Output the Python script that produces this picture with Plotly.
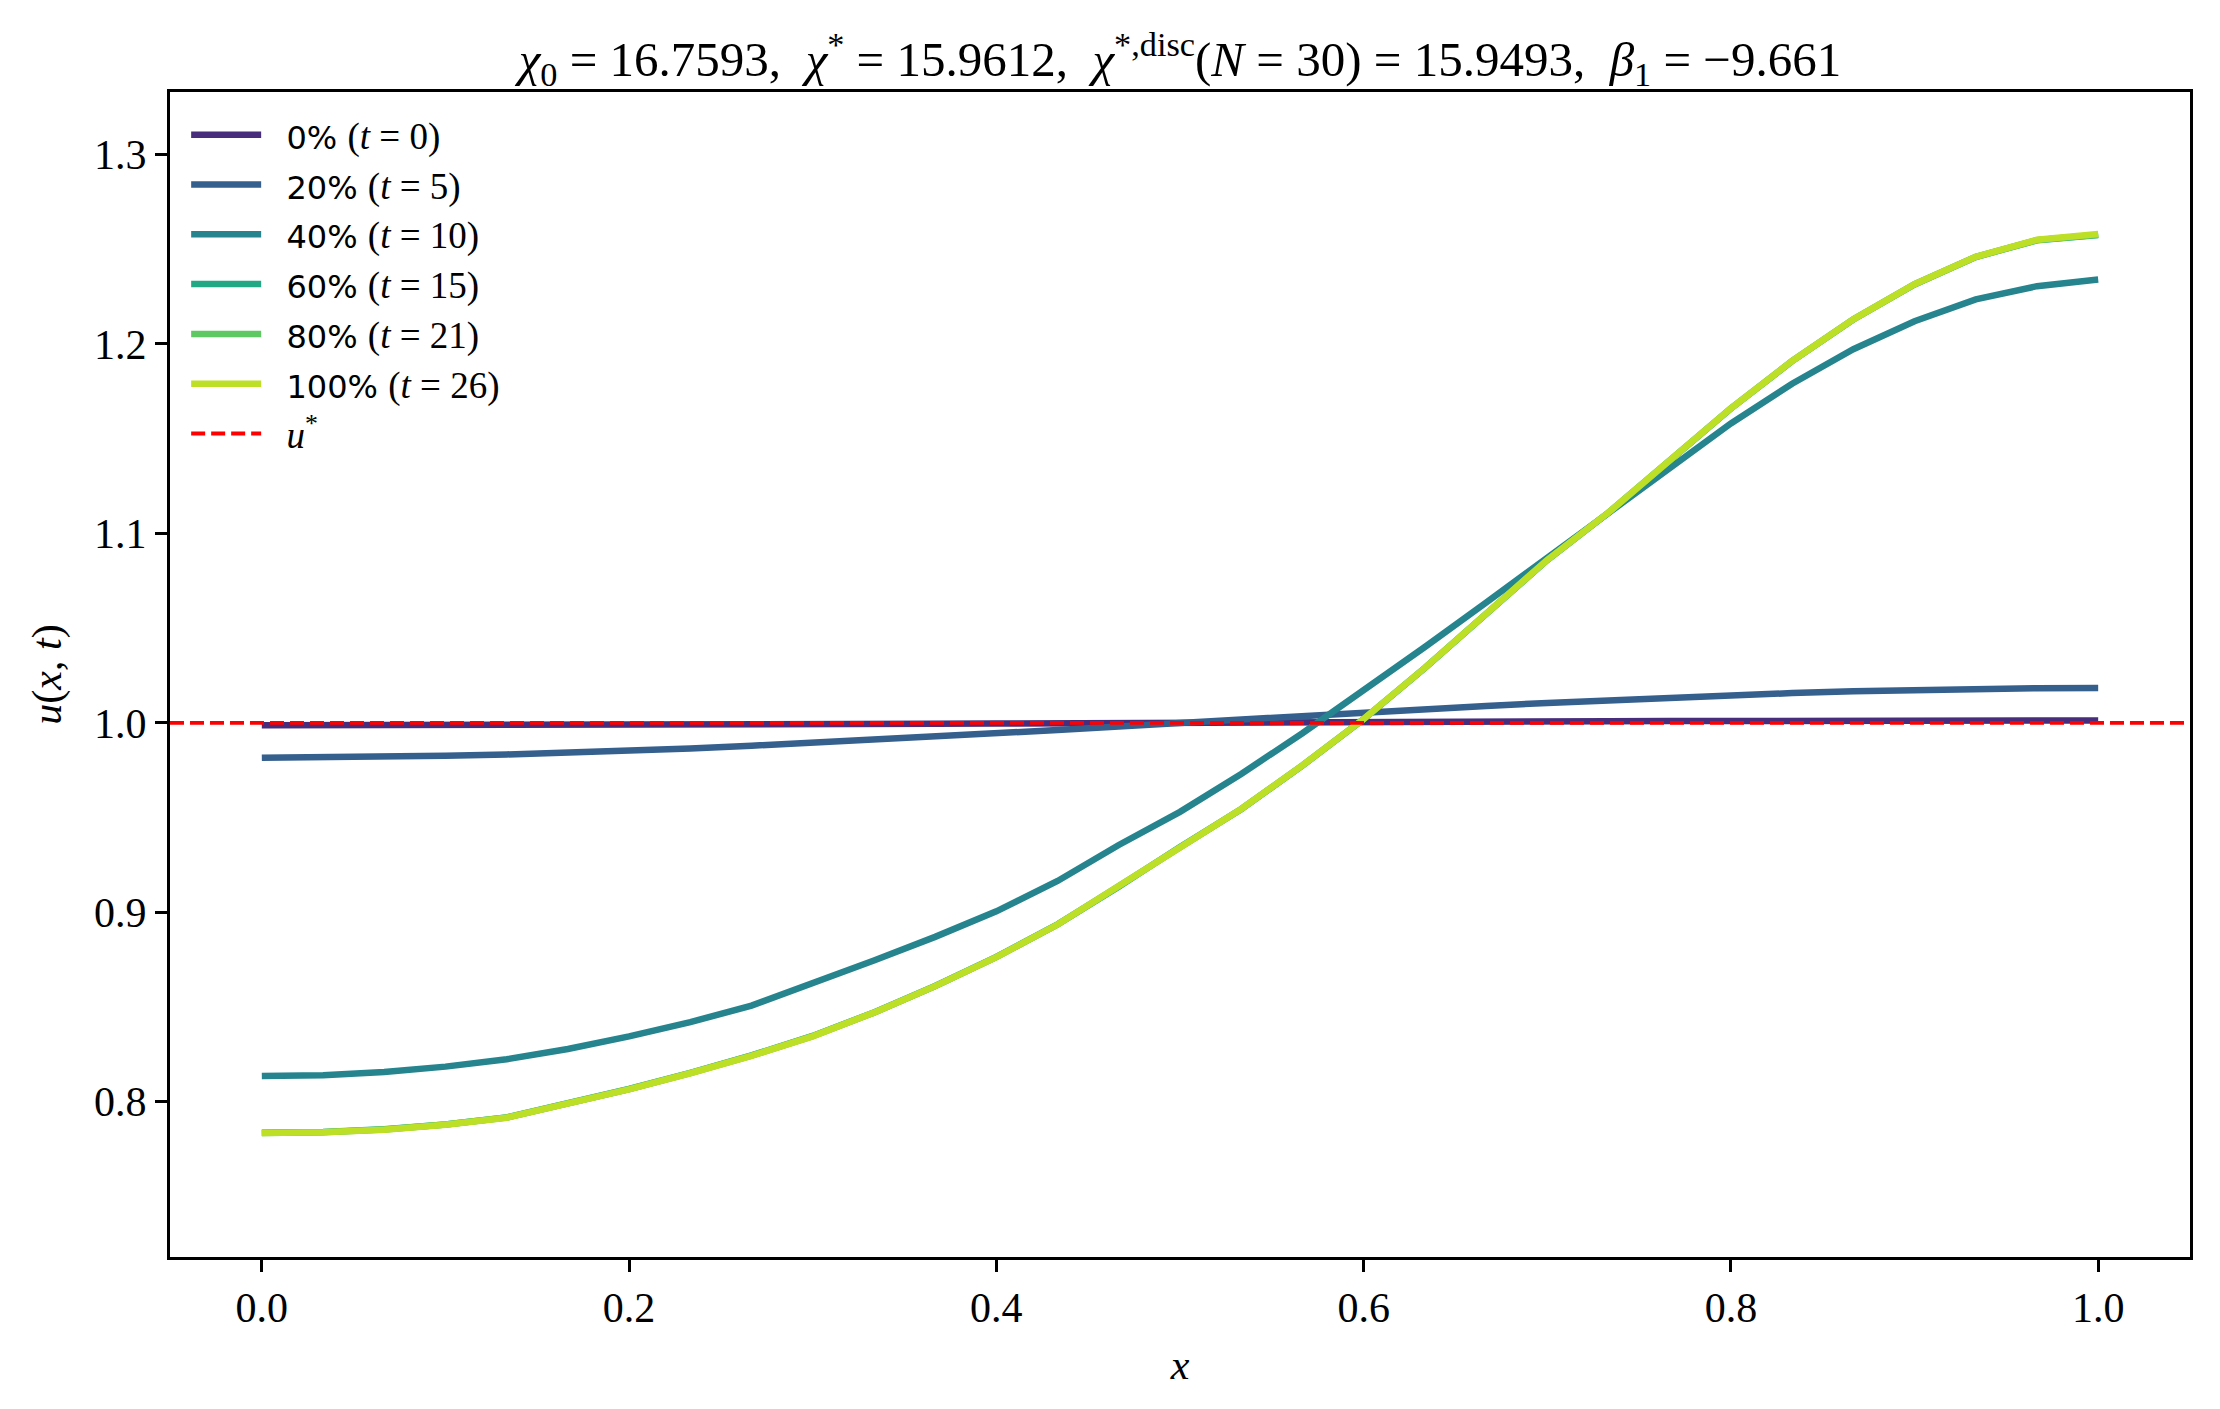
import plotly.graph_objects as go

# grid x_k = k/30, k = 0..30
x = [k / 30 for k in range(31)]

u_0 = [0.9987, 0.9987, 0.9987, 0.9988, 0.9988, 0.9989, 0.9990, 0.9991, 0.9992, 0.9993,
       0.9994, 0.9995, 0.9996, 0.9998, 0.9999, 1.0000, 1.0001, 1.0002, 1.0004, 1.0005,
       1.0006, 1.0007, 1.0008, 1.0009, 1.0010, 1.0010, 1.0011, 1.0011, 1.0012, 1.0012, 1.0012]

u_5 = [0.9816, 0.9817, 0.9820, 0.9826, 0.9833, 0.9842, 0.9853, 0.9865, 0.9879, 0.9894,
       0.9910, 0.9927, 0.9944, 0.9962, 0.9981, 1.0000, 1.0019, 1.0037, 1.0055, 1.0072,
       1.0089, 1.0105, 1.0120, 1.0134, 1.0146, 1.0157, 1.0166, 1.0173, 1.0179, 1.0183, 1.0184]

u_10 = [0.8135, 0.8140, 0.8157, 0.8185, 0.8224, 0.8278, 0.8345, 0.8420, 0.8507, 0.8622,
        0.8745, 0.8870, 0.9005, 0.9165, 0.9355, 0.9530, 0.9730, 0.9945, 1.0170, 1.0400,
        1.0635, 1.0870, 1.1105, 1.1340, 1.1580, 1.1790, 1.1972, 1.2120, 1.2235, 1.2305, 1.2340]

u_15 = [0.7836, 0.7840, 0.7854, 0.7880, 0.7917, 0.7992, 0.8067, 0.8152, 0.8244, 0.8347,
        0.8471, 0.8611, 0.8764, 0.8936, 0.9135, 0.9345, 0.9544, 0.9774, 1.0019, 1.0289,
        1.0579, 1.0859, 1.1109, 1.1389, 1.1659, 1.1909, 1.2129, 1.2314, 1.2459, 1.2547, 1.2575]

u_21 = [0.7835, 0.7839, 0.7853, 0.7879, 0.7916, 0.7991, 0.8066, 0.8151, 0.8243, 0.8346,
        0.8470, 0.8610, 0.8763, 0.8935, 0.9135, 0.9345, 0.9545, 0.9775, 1.0020, 1.0290,
        1.0580, 1.0860, 1.1110, 1.1390, 1.1660, 1.1910, 1.2130, 1.2315, 1.2460, 1.2548, 1.2577]

u_26 = [0.7834, 0.7838, 0.7852, 0.7878, 0.7915, 0.7990, 0.8065, 0.8150, 0.8242, 0.8345,
        0.8470, 0.8610, 0.8763, 0.8935, 0.9135, 0.9345, 0.9545, 0.9775, 1.0020, 1.0290,
        1.0580, 1.0860, 1.1110, 1.1390, 1.1660, 1.1910, 1.2130, 1.2315, 1.2460, 1.2550, 1.2580]

labels = ["0%", "20%", "40%", "60%", "80%", "100%"]
times = [0, 5, 10, 15, 21, 26]
colors = ["#472d7b", "#355f8d", "#25848e", "#22a884", "#5ec962", "#bddf26"]
u_star = 1.0

SERIF = "Liberation Serif"
SANS = "DejaVu Sans"
SP = "&nbsp;"

fig = go.Figure()
for lab, t, col, ys in zip(labels, times, colors, [u_0, u_5, u_10, u_15, u_21, u_26]):
    name = (f'<span style="font-family:{SANS};font-size:32px">{SP}{SP}{lab}{SP}</span>'
            f'<span style="font-family:{SERIF};font-size:37px">(<i>t</i>{SP}={SP}{t})</span>')
    fig.add_trace(go.Scatter(x=x, y=ys, mode="lines", name=name,
                             line=dict(color=col, width=6.5)))

fig.add_shape(type="line", xref="paper", yref="y", x0=0, x1=1, y0=u_star, y1=u_star,
              line=dict(color="#ff0000", width=3.8, dash="14px,6px"),
              showlegend=True,
              name=(f'<span style="font-family:{SANS};font-size:32px">{SP}{SP}</span>'
                    f'<span style="font-family:{SERIF};font-size:37px"><i>u</i><sup>*</sup></span>'))

S2 = SP + SP
title = (f"<i>χ</i><sub>0</sub>{SP}={SP}16.7593,{S2}<i>χ</i><sup>*</sup>{SP}={SP}15.9612,{S2}"
         f"<i>χ</i><sup>*,disc</sup>(<i>N</i>{SP}={SP}30){SP}={SP}15.9493,{S2}"
         f"<i>β</i><sub>1</sub>{SP}={SP}−9.661")

axis_common = dict(showline=True, linecolor="black", linewidth=3, mirror=True,
                   ticks="outside", ticklen=12, tickwidth=3, tickcolor="black",
                   showgrid=False, zeroline=False,
                   tickfont=dict(family=SERIF, size=42, color="black"))

# page body has an 8px margin, so the figure is 8px smaller than the window
W, H = 2212, 1401
fig.update_layout(
    width=W, height=H,
    paper_bgcolor="white", plot_bgcolor="white",
    font=dict(family=SERIF, color="black"),
    margin=dict(l=162, r=30, t=84, b=152),
    title=dict(text=title, xref="paper", x=0.5, xanchor="center",
               yref="container", y=1 - 51 / H, yanchor="middle",
               font=dict(family=SERIF, size=49, color="black")),
    xaxis=dict(range=[-0.05, 1.05], tickvals=[0, 0.2, 0.4, 0.6, 0.8, 1.0],
               tickformat=".1f",
               title=dict(text="<i>x</i>", font=dict(family=SERIF, size=42), standoff=20),
               **axis_common),
    yaxis=dict(range=[0.718, 1.333], tickvals=[0.8, 0.9, 1.0, 1.1, 1.2, 1.3],
               tickformat=".1f",
               title=dict(text="<i>u</i>(<i>x</i>,<i>&nbsp;t</i>)", font=dict(family=SERIF, size=42),
                          standoff=20),
               **axis_common),
    legend=dict(x=0.008, y=0.989, xanchor="left", yanchor="top",
                bgcolor="rgba(255,255,255,0)", borderwidth=0,
                font=dict(family=SERIF, size=36, color="black"),
                itemwidth=70, tracegroupgap=0),
    showlegend=True,
)

fig.write_html("out.html")
